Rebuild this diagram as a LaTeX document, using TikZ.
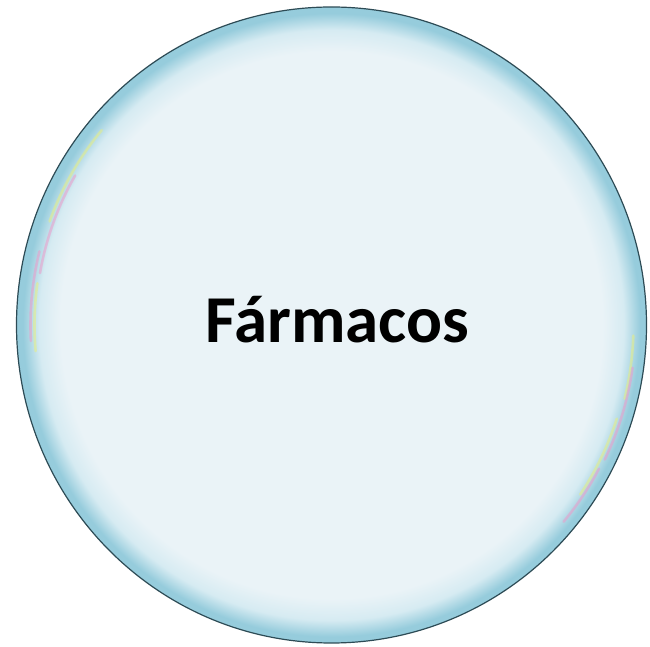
\documentclass[tikz,border=0pt]{standalone}
\usepackage{fontspec}
\usetikzlibrary{calc}
\setmainfont{Carlito}
\definecolor{bubcenter}{RGB}{234,243,247}
\definecolor{bubmid}{RGB}{214,235,242}
\definecolor{bubedge}{RGB}{150,204,220}
\definecolor{bubline}{RGB}{45,75,85}
\definecolor{irpink}{RGB}{240,150,200}
\definecolor{iryellow}{RGB}{235,240,120}
\pgfdeclareradialshading{bubble}{\pgfpoint{0bp}{0bp}}{%
  color(0bp)=(bubcenter); color(21.5bp)=(bubcenter); color(23.2bp)=(bubmid);
  color(24.5bp)=(bubedge); color(25bp)=(bubedge); color(50bp)=(bubedge)}
\tikzset{
  bubblestyle/.style={shading=bubble, draw=bubline, line width=1.2pt},
  label/.style={font=\bfseries\fontsize{67}{75}\selectfont, text=black, inner sep=0pt},
  iris/.style={line width=2.6pt, opacity=0.5, line cap=round}
}
\begin{document}
\begin{tikzpicture}[x=1pt,y=1pt]
\useasboundingbox (0,0) rectangle (650,647);
\path[bubblestyle] (331.5,322) ellipse [x radius=315, y radius=318];
\node[coordinate] (c) at (331.5,322) {};
% iridescent streaks
\draw[iris, irpink] ($(c)+(150:296 and 299)$) arc [start angle=150, end angle=170, x radius=296, y radius=299];
\draw[iris, iryellow] ($(c)+(140:300 and 303)$) arc [start angle=140, end angle=160, x radius=300, y radius=303];
\draw[iris, irpink] ($(c)+(166:301 and 304)$) arc [start angle=166, end angle=183, x radius=301, y radius=304];
\draw[iris, iryellow] ($(c)+(172:297 and 300)$) arc [start angle=172, end angle=185, x radius=297, y radius=300];
\draw[iris, iryellow] ($(c)+(-2:302 and 305)$) arc [start angle=-2, end angle=-14, x radius=302, y radius=305];
\draw[iris, irpink] ($(c)+(-8:304 and 307)$) arc [start angle=-8, end angle=-26, x radius=304, y radius=307];
\draw[iris, iryellow] ($(c)+(-18:300 and 303)$) arc [start angle=-18, end angle=-34, x radius=300, y radius=303];
\draw[iris, irpink] ($(c)+(-28:303 and 306)$) arc [start angle=-28, end angle=-40, x radius=303, y radius=306];
\node[label, anchor=base] (t) at (337.5,304) {Fármacos};
\end{tikzpicture}
\end{document}
